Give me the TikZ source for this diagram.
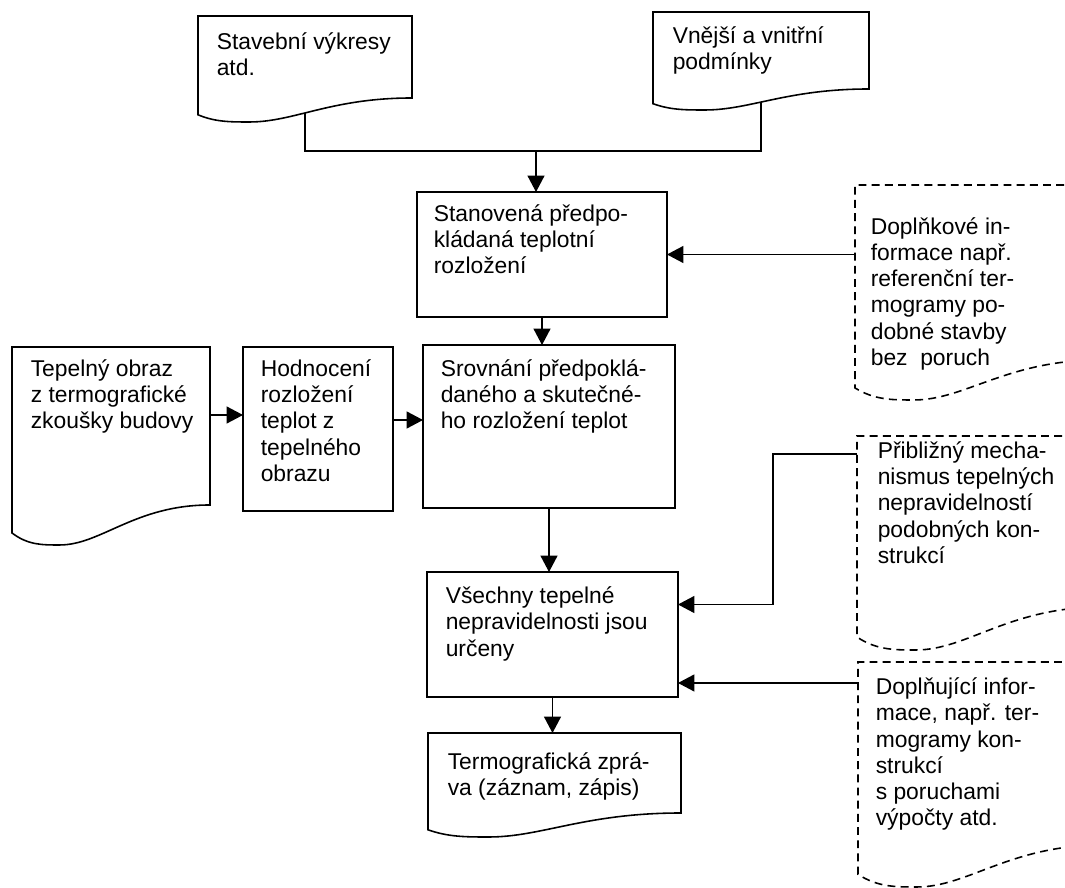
\documentclass[tikz,border=0pt]{standalone}
\usepackage{fontspec}
\setmainfont{Liberation Sans}
\usepackage{tikz}
\usetikzlibrary{arrows.meta,positioning,calc}
% document symbol: box with a wavy lower edge
\newcommand{\docwave}[3][]{%
  \draw[#1] (#2.south east) -- (#2.north east) -- (#2.north west)
    -- ($(#2.south west)+(0,0.7*#3)$)
    .. controls ($(#2.south west)!0.08!(#2.south east)+(0,#3)$) and ($(#2.south west)!0.15!(#2.south east)+(0,#3)$) .. ($(#2.south west)!0.24!(#2.south east)+(0,#3)$)
    .. controls ($(#2.south west)!0.45!(#2.south east)+(0,#3)$) and ($(#2.south west)!0.62!(#2.south east)$) .. (#2.south east)
    -- cycle;}

\begin{document}
\begin{tikzpicture}[x=0.02cm, y=-0.02cm, line width=0.9pt,
 >={Triangle[length=3.3mm,width=3.4mm]},
 box/.style={draw, outer sep=0pt, inner sep=0pt},
 docarea/.style={outer sep=0pt, inner sep=0pt},
 txt/.style={anchor=north west, inner sep=0pt, font=\fontsize{13}{14.8}\selectfont},
 dashline/.style={dash pattern=on 4.5pt off 3pt}]
\useasboundingbox (0,0) rectangle (1065,888);
\clip (0,0) rectangle (1065,888);
\fill[white] (0,0) rectangle (1065,888);

\node[docarea, minimum width=4.28cm, minimum height=1.64cm] (stavby) at (305, 57) {};
\node[docarea, minimum width=4.32cm, minimum height=1.54cm] (podm) at (761, 50.5) {};
\node[box, minimum width=5cm, minimum height=2.5cm] (stanov) at (542, 254.5) {};
\node[docarea, minimum width=4.9cm, minimum height=3.5cm] (dopl1) at (977.5, 272.5) {};
\node[docarea, minimum width=3.96cm, minimum height=3.16cm] (tepobr) at (111, 426) {};
\node[box, minimum width=3cm, minimum height=3.28cm] (hodn) at (318, 429) {};
\node[box, minimum width=5.04cm, minimum height=3.26cm] (srovn) at (549, 426.5) {};
\node[docarea, minimum width=4.9cm, minimum height=3.42cm] (pribl) at (979.5, 521.5) {};
\node[box, minimum width=5.02cm, minimum height=2.5cm] (vsech) at (552.5, 634.5) {};
\node[docarea, minimum width=4.9cm, minimum height=3.66cm] (dopl2) at (980.5, 753.5) {};
\node[docarea, minimum width=5.06cm, minimum height=1.6cm] (zprava) at (554.5, 773) {};

% connectors
\coordinate (join) at (536, 151);
\coordinate (bend) at (773, 454);
\coordinate (a1) at ([yshift=0.22cm]tepobr.east);
\coordinate (a2) at ([yshift=0.18cm]hodn.east);
\coordinate (a3) at ([yshift=-0.97cm]vsech.east);
\draw (stavby.south) |- (join) -| (podm.south);
\draw[->] (join) -- (join |- stanov.north);
\draw[->] (dopl1.west |- stanov.east) -- (stanov.east);
\draw[->] (stanov.south) -- (stanov.south |- srovn.north);
\draw[->] (a1) -- (a1 -| hodn.west);
\draw[->] (a2) -- (a2 -| srovn.west);
\draw[->] (srovn.south) -- (srovn.south |- vsech.north);
\draw[->] (pribl.west |- bend) -- (bend) |- ([yshift=0.6cm]vsech.east);
\draw[->] (a3 -| dopl2.west) -- (a3);
\draw[->] (vsech.south) -- (vsech.south |- zprava.north);

\docwave[fill=white]{stavby}{24}
\docwave[fill=white]{podm}{21}
\docwave[fill=white, dashline]{dopl1}{40}
\docwave[fill=white]{tepobr}{40}
\docwave[fill=white, dashline]{pribl}{43}
\docwave[fill=white, dashline]{dopl2}{42}
\docwave[fill=white]{zprava}{24}

\node[txt] (stavby_t) at (216, 31) {\begin{tabular}{@{}l@{}} Stavební výkresy \\ atd. \end{tabular}};
\node[txt] (podm_t) at (672, 25) {\begin{tabular}{@{}l@{}} Vnější a vnitřní \\ podmínky \end{tabular}};
\node[txt] (stanov_t) at (433, 203) {\begin{tabular}{@{}l@{}} Stanovená předpo- \\ kládaná teplotní \\ rozložení \end{tabular}};
\node[txt] (dopl1_t) at (870, 216) {\begin{tabular}{@{}l@{}} Doplňkové in- \\ formace např. \\ referenční ter- \\ mogramy po- \\ dobné stavby \\ bez \ poruch \end{tabular}};
\node[txt] (tepobr_t) at (30, 358) {\begin{tabular}{@{}l@{}} Tepelný obraz \\ z termografické \\ zkoušky budovy \end{tabular}};
\node[txt] (hodn_t) at (260, 358) {\begin{tabular}{@{}l@{}} Hodnocení \\ rozložení \\ teplot z \\ tepelného \\ obrazu \end{tabular}};
\node[txt] (srovn_t) at (440, 358) {\begin{tabular}{@{}l@{}} Srovnání předpoklá- \\ daného a skutečné- \\ ho rozložení teplot \end{tabular}};
\node[txt] (pribl_t) at (877, 440) {\begin{tabular}{@{}l@{}} Přibližný mecha- \\ nismus tepelných \\ nepravidelností \\ podobných kon- \\ strukcí \end{tabular}};
\node[txt] (vsech_t) at (445, 585) {\begin{tabular}{@{}l@{}} Všechny tepelné \\ nepravidelnosti jsou \\ určeny \end{tabular}};
\node[txt] (dopl2_t) at (875, 676) {\begin{tabular}{@{}l@{}} Doplňující infor- \\ mace, např. ter- \\ mogramy kon- \\ strukcí \\ s poruchami \\ výpočty atd. \end{tabular}};
\node[txt] (zprava_t) at (447, 751) {\begin{tabular}{@{}l@{}} Termografická zprá- \\ va (záznam, zápis) \end{tabular}};
\end{tikzpicture}
\end{document}
